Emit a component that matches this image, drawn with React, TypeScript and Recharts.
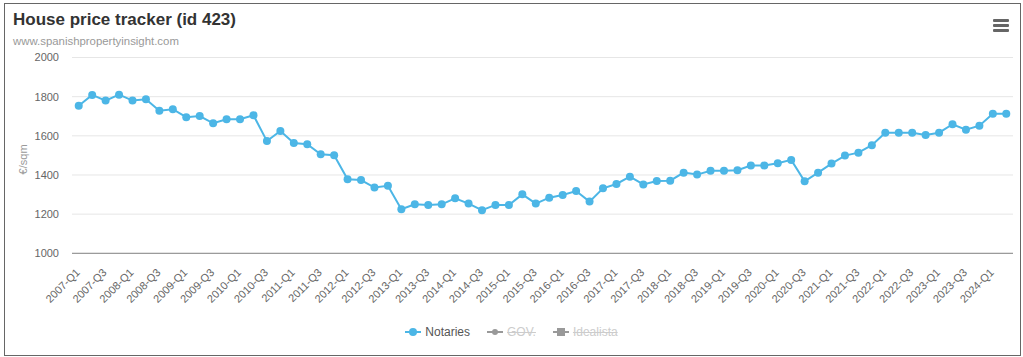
import React from 'react';
import { LineChart, Line, XAxis, YAxis, CartesianGrid } from 'recharts';

const quarters: string[] = [];
for (let y = 2007; y <= 2024; y++) {
  for (let q = 1; q <= 4; q++) {
    if (y === 2024 && q > 2) break;
    quarters.push(`${y}-Q${q}`);
  }
}

const notaries: number[] = [
  1754, 1809, 1780, 1810, 1780, 1787, 1728, 1736,
  1695, 1701, 1664, 1685, 1685, 1705, 1573, 1625,
  1563, 1557, 1506, 1501, 1378, 1374, 1336, 1345,
  1225, 1250, 1247, 1250, 1281, 1254, 1220, 1247,
  1247, 1301, 1254, 1284, 1298, 1318, 1264, 1332,
  1354, 1391, 1352, 1369, 1371, 1412, 1402, 1422,
  1422, 1424, 1448, 1448, 1460, 1477, 1368, 1412,
  1458, 1499, 1514, 1552, 1616, 1616, 1616, 1604,
  1616, 1659, 1631, 1652, 1713, 1713,
];

const yTicks: number[] = [1000, 1200, 1400, 1600, 1800, 2000];
const legendItems: string[] = ['Notaries', 'GOV.', 'Idealista'];

const data = quarters.map((q, i) => ({ quarter: q, notaries: notaries[i] }));

const FONT = '"Liberation Sans", Arial, Helvetica, sans-serif';
const BLUE = '#4cb6e6';

const XTick = (props: any) => {
  const { x, y, payload } = props;
  return (
    <g transform={`translate(${x - 1},${y + 9})`}>
      <text
        transform="rotate(-45)"
        textAnchor="end"
        fontSize={11}
        fill="#666"
        fontFamily={FONT}
        dy={4}
      >
        {payload.value}
      </text>
    </g>
  );
};

export default function App() {
  return (
    <div style={{ position: 'absolute', left: 0, top: 0, width: 1023, height: 357, background: '#fff', fontFamily: FONT }}>
      <div style={{ position: 'absolute', left: 4, top: 3, width: 1015, height: 351, border: '1px solid #666' }} />
      <div style={{ position: 'absolute', left: 13, top: 10, fontSize: 17, fontWeight: 'bold', color: '#333' }}>
        House price tracker (id 423)
      </div>
      <div style={{ position: 'absolute', left: 13, top: 35, fontSize: 11.4, color: '#999' }}>
        www.spanishpropertyinsight.com
      </div>
      <div style={{ position: 'absolute', left: 993, top: 19 }}>
        {[0, 1, 2].map((i) => (
          <div key={i} style={{ width: 16, height: 2.5, background: '#666', marginBottom: 2.5, borderRadius: 1 }} />
        ))}
      </div>
      <div style={{ position: 'absolute', left: 0, top: 0 }}>
        <LineChart
          width={1023}
          height={357}
          data={data}
          margin={{ top: 57.5, right: 10, left: 12, bottom: 43.7 }}
        >
          <CartesianGrid vertical={false} stroke="#e6e6e6" />
          <XAxis
            dataKey="quarter"
            interval={1}
            tickLine={false}
            axisLine={{ stroke: '#888', strokeWidth: 1 }}
            height={60}
            padding={{ left: 6.72, right: 6.72 }}
            tick={<XTick />}
          />
          <YAxis
            domain={[1000, 2000]}
            ticks={yTicks}
            width={60}
            axisLine={false}
            tickLine={false}
            tickSize={0}
            tickMargin={13}
            tick={{ fontSize: 11, fill: '#666', fontFamily: FONT }}
            label={{
              value: '€/sqm',
              angle: -90,
              position: 'insideLeft',
              dx: 6,
              dy: 4,
              style: { fontSize: 11, fill: '#999', fontFamily: FONT, textAnchor: 'middle' },
            }}
          />
          <Line
            type="linear"
            dataKey="notaries"
            stroke={BLUE}
            strokeWidth={2}
            dot={{ r: 4, fill: BLUE, stroke: BLUE, strokeWidth: 0 }}
            isAnimationActive={false}
          />
        </LineChart>
      </div>
      <div style={{ position: 'absolute', left: 0, top: 325, width: 1023, display: 'flex', justifyContent: 'center', fontSize: 12 }}>
        {legendItems.map((name, i) => {
          const hidden = i > 0;
          const col = hidden ? '#ccc' : BLUE;
          return (
            <div key={name} style={{ display: 'flex', alignItems: 'center', marginLeft: i === 0 ? 0 : 17 }}>
              <svg width={16} height={12} style={{ marginRight: 4 }}>
                <line x1={0} y1={6} x2={16} y2={6} stroke={hidden ? '#999' : BLUE} strokeWidth={2} />
                {i === 2 ? (
                  <rect x={4} y={2} width={8} height={8} fill={hidden ? '#999' : col} />
                ) : (
                  <circle cx={8} cy={6} r={i === 0 ? 4 : 3} fill={hidden ? '#999' : col} />
                )}
              </svg>
              <span style={{ color: hidden ? '#ccc' : '#555', textDecoration: hidden ? 'line-through' : 'none' }}>{name}</span>
            </div>
          );
        })}
      </div>
    </div>
  );
}
